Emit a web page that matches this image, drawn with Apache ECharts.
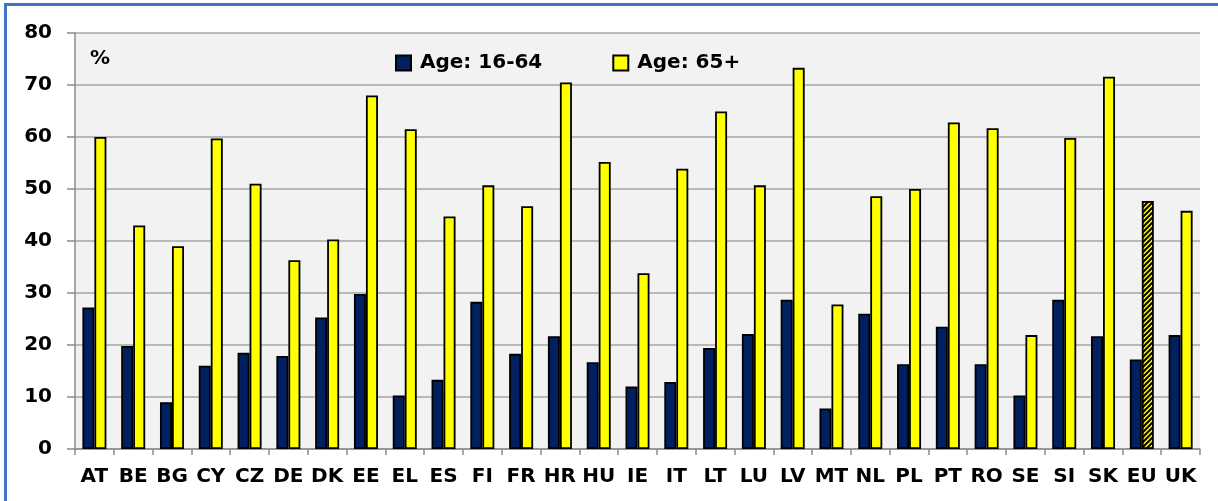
<!DOCTYPE html>
<html>
<head>
<meta charset="utf-8">
<script src="https://cdn.jsdelivr.net/npm/echarts@6/dist/echarts.min.js"></script>
<style>
  html, body { margin: 0; padding: 0; background: #fff; }
  #chart { width: 1218px; height: 501px; }
  .frame { position: absolute; left: 4px; top: 3px; right: 0; bottom: 0;
           border-left: 3px solid #4472C4; border-top: 3px solid #4472C4; pointer-events: none; }
</style>
</head>
<body>
<div id="chart"></div>
<div class="frame"></div>
<script>
// 各国数据（%）
const countries = ["AT","BE","BG","CY","CZ","DE","DK","EE","EL","ES","FI","FR","HR","HU","IE","IT","LT","LU","LV","MT","NL","PL","PT","RO","SE","SI","SK","EU","UK"];
const age16to64 = [27.2,19.8,9.0,16.0,18.5,17.9,25.3,29.8,10.3,13.3,28.3,18.3,21.7,16.7,12.0,12.9,19.4,22.1,28.7,7.8,26.0,16.3,23.5,16.3,10.3,28.7,21.7,17.2,21.9];
const age65plus = [60.0,43.0,39.0,59.7,51.0,36.3,40.3,68.0,61.5,44.7,50.7,46.7,70.5,55.2,33.8,53.9,64.9,50.7,73.3,27.8,48.6,50.0,62.8,61.7,21.9,59.8,71.6,47.7,45.8];
const yTicks = [0, 80, 10]; // min, max, interval

const FONT = "'DejaVu Sans', sans-serif";
const NAVY = "#002060", YELLOW = "#FFFF00";

// EU 柱子的斜线填充
function hatch() {
  const c = document.createElement("canvas");
  c.width = 5; c.height = 5;
  const g = c.getContext("2d");
  g.fillStyle = YELLOW; g.fillRect(0, 0, 5, 5);
  g.strokeStyle = "#000"; g.lineWidth = 2;
  g.beginPath();
  g.moveTo(-1, 6); g.lineTo(6, -1);
  g.moveTo(-3, 3); g.lineTo(3, -3);
  g.moveTo(2, 8); g.lineTo(8, 2);
  g.stroke();
  return c;
}
const hatchImg = hatch();

const chart = echarts.init(document.getElementById("chart"));
chart.setOption({
  animation: false,
  textStyle: { fontFamily: FONT },
  grid: { left: 75, right: 18, top: 33, bottom: 52, show: true, backgroundColor: "#F2F2F2", borderWidth: 0 },
  legend: {
    left: 390, top: 48, icon: "rect", itemWidth: 15, itemHeight: 15, itemGap: 70,
    textStyle: { fontFamily: FONT, fontWeight: "bold", fontSize: 20, color: "#000", padding: [0, 0, 0, 4] },
    data: ["Age: 16-64", "Age: 65+"]
  },
  graphic: [{
    type: "text", left: 90, top: 49,
    style: { text: "%", font: "bold 20px " + FONT, fill: "#000" }
  }],
  xAxis: {
    type: "category", data: countries,
    axisLine: { lineStyle: { color: "#8C8C8C", width: 1.5 } },
    axisTick: { show: true, length: 6, lineStyle: { color: "#8C8C8C", width: 1.5 } },
    axisLabel: { color: "#000", fontWeight: "bold", fontSize: 20, margin: 18, interval: 0, fontFamily: FONT }
  },
  yAxis: {
    type: "value", min: yTicks[0], max: yTicks[1], interval: yTicks[2],
    axisLine: { show: true, lineStyle: { color: "#8C8C8C", width: 1.5 } },
    axisTick: { show: true, length: 8, lineStyle: { color: "#8C8C8C", width: 1.5 } },
    splitLine: { lineStyle: { color: "#A6A6A6", width: 1.5 } },
    axisLabel: { color: "#000", fontWeight: "bold", fontSize: 20, margin: 23, fontFamily: FONT }
  },
  series: [
    {
      name: "Age: 16-64", type: "bar", data: age16to64,
      barWidth: 12, barGap: "0%",
      itemStyle: { color: NAVY, borderColor: "#000", borderWidth: 1.8 }
    },
    {
      name: "Age: 65+", type: "bar",
      data: age65plus.map((v, i) => countries[i] === "EU"
        ? { value: v, itemStyle: { color: { image: hatchImg, repeat: "repeat" } } }
        : v),
      barWidth: 12,
      itemStyle: { color: YELLOW, borderColor: "#000", borderWidth: 1.8 }
    }
  ]
});
</script>
</body>
</html>
